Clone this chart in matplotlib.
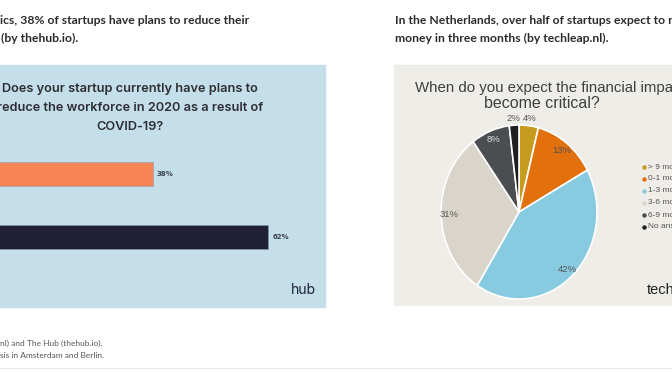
import matplotlib.pyplot as plt
from matplotlib.patches import Rectangle
from matplotlib.lines import Line2D
import numpy as np

W, H = 672, 372

# bar chart data (thehub.io)
bar_cats = ["Yes", "No"]
bar_vals = [38, 62]
bar_colors = ["#F98557", "#1F2038"]
bar_title = ["Does your startup currently have plans to",
             "reduce the workforce in 2020 as a result of",
             "COVID-19?"]

# pie chart data (techleap.nl)
pie_cats = ["> 9 months", "0-1 month", "1-3 months", "3-6 months", "6-9 months", "No answer"]
pie_vals = [4, 13, 42, 31, 8, 2]
pie_colors = ["#C69B1E", "#E2700C", "#88CBE0", "#D9D5CA", "#4B4E50", "#1F1F22"]

fig = plt.figure(figsize=(W / 100, H / 100), dpi=100)


def rect(x0, y0, x1, y1):
    return [x0 / W, 1 - y1 / H, (x1 - x0) / W, (y1 - y0) / H]


def fx(x):
    return x / W


def fy(y):
    return 1 - y / H


# page headings
head = dict(family="Lato", weight="bold", size=8.7, color="#2b2b2b", va="center")
fig.text(fx(0), fy(21), "ics, 38% of startups have plans to reduce their", **head)
fig.text(fx(1), fy(38), "(by thehub.io).", **head)
fig.text(fx(395), fy(21), "In the Netherlands, over half of startups expect to run out of", **head)
fig.text(fx(395), fy(38), "money in three months (by techleap.nl).", **head)

# panel backgrounds
fig.patches.append(Rectangle((fx(-5), fy(307)), (325 + 5) / W, (307 - 65) / H,
                             transform=fig.transFigure, color="#C4DEEA", zorder=-5))
fig.patches.append(Rectangle((fx(394), fy(305)), (680 - 394) / W, (305 - 65) / H,
                             transform=fig.transFigure, color="#EFEDE8", zorder=-5))

# left: horizontal bars
ax = fig.add_axes(rect(-31, 65, 325, 307))
ax.patch.set_alpha(0)
ypos = np.arange(len(bar_cats))
ax.barh(ypos, bar_vals, height=0.38, color=bar_colors, edgecolor="#8a9bb0", linewidth=0.4)
for y, v in zip(ypos, bar_vals):
    ax.text(v + 0.8, y, f"{v}%", va="center", ha="left", size=5, weight="bold", color="#3a4250")
ax.set_xlim(0, (325 + 31) / 4.83)
ax.set_ylim(2.11, -1.73)
ax.axis("off")

for i, line in enumerate(bar_title):
    fig.text(fx(130), fy(89 + 19 * i), line, ha="center", va="center",
             family="Inter", weight="semibold", size=9.2, color="#2e2e33")
fig.text(fx(303), fy(290), "hub", ha="center", va="center",
         family="Inter", size=10, color="#1F2038")

# right: pie
cx, cy, rx, ry = 519, 212, 78, 87
pax = fig.add_axes(rect(cx - 110, cy - 110, cx + 110, cy + 110))
pax.patch.set_alpha(0)
wedges, _ = pax.pie(pie_vals, colors=pie_colors, startangle=90, counterclock=False,
                    wedgeprops=dict(edgecolor="white", linewidth=1.2))
pax.set_aspect("auto")
pax.set_xlim(-110 / rx, 110 / rx)
pax.set_ylim(-110 / ry, 110 / ry)
for w, v in zip(wedges, pie_vals):
    ang = np.deg2rad((w.theta1 + w.theta2) / 2)
    r = 1.08 if v < 5 else 0.9
    col = "#e0e0e0" if v == 8 else "#555555"
    pax.text(r * np.cos(ang), r * np.sin(ang), f"{v}%", ha="center", va="center",
             size=6.8, color=col, family="Liberation Sans")

fig.text(fx(415), fy(88), "When do you expect the financial impact to",
         family="Liberation Sans", size=10.8, color="#3f3f3f", va="center")
fig.text(fx(542), fy(104), "become critical?", ha="center",
         family="Liberation Sans", size=11.5, color="#3f3f3f", va="center")

for i, (lab, c) in enumerate(zip(pie_cats, pie_colors)):
    yy = 167 + 12 * i
    fig.lines.append(Line2D([fx(644)], [fy(yy)], transform=fig.transFigure,
                            marker="o", markersize=2.2, color=c, linestyle="none"))
    fig.text(fx(648), fy(yy), lab, va="center", size=6, color="#555555",
             family="Liberation Sans")

fig.text(fx(647), fy(290), "techleap.nl", va="center", size=10.5, color="#222222",
         family="Liberation Sans")

# source note
note = dict(va="center", size=6, color="#555555", family="Lato")
fig.text(fx(0), fy(343), "nl) and The Hub (thehub.io).", **note)
fig.text(fx(0), fy(355), "sis in Amsterdam and Berlin.", **note)
fig.lines.append(Line2D([0, 1], [fy(368), fy(368)], transform=fig.transFigure,
                        color="#e8e8e8", linewidth=0.8))

plt.savefig("out.png", dpi=100)
